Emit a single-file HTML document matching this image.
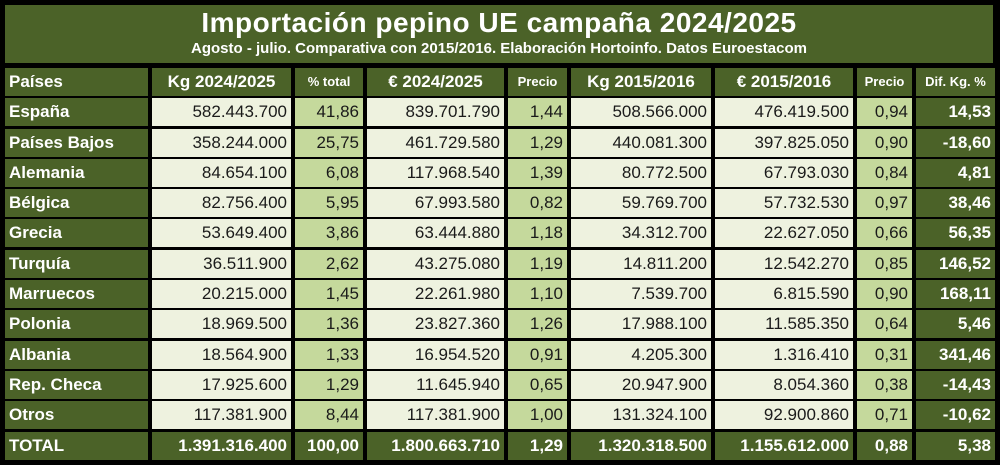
<!DOCTYPE html>
<html><head><meta charset="utf-8">
<style>
body{margin:0;width:1000px;height:465px;background:#000;overflow:hidden;font-family:"Liberation Sans",sans-serif;}
#title{position:absolute;left:5px;top:5px;width:988px;height:58px;background:#4b6228;color:#fff;text-align:center;}
#title .t{font-size:28px;font-weight:bold;line-height:32px;padding-top:2px;letter-spacing:0.5px}
#title .s{font-size:15px;font-weight:bold;line-height:20px;}
#grid{position:absolute;left:5px;top:68px;display:grid;grid-template-columns:143px 139px 68px 137px 59px 140px 138px 55px 79px;grid-template-rows:repeat(13,28px);column-gap:4px;row-gap:2.3px;}
#grid div{font-size:17px;line-height:28px;padding:0 4px;white-space:nowrap;color:#1a1a1a;text-align:right;}
.h{background:#4b6228;color:#fff!important;font-weight:bold;text-align:center!important;}
.hs{font-size:13px!important;}
.n{background:#4b6228;color:#fff!important;font-weight:bold;text-align:left!important;}
.l{background:#eef2df;}
.m{background:#c5d99c;}
.d{background:#4b6228;color:#fff!important;font-weight:bold;}
.T{background:#4b6228;color:#fff!important;font-weight:bold;}
</style></head><body>
<div id="title"><div class="t">Importación pepino UE campaña 2024/2025</div><div class="s">Agosto - julio. Comparativa con 2015/2016. Elaboración Hortoinfo. Datos Euroestacom</div></div>
<div id="grid">
<div class="n">Países</div><div class="h">Kg 2024/2025</div><div class="h hs">% total</div><div class="h">€ 2024/2025</div><div class="h hs">Precio</div><div class="h">Kg 2015/2016</div><div class="h">€ 2015/2016</div><div class="h hs">Precio</div><div class="h hs">Dif. Kg. %</div>
<div class="n">España</div><div class="l">582.443.700</div><div class="m">41,86</div><div class="l">839.701.790</div><div class="m">1,44</div><div class="l">508.566.000</div><div class="l">476.419.500</div><div class="m">0,94</div><div class="d">14,53</div>
<div class="n">Países Bajos</div><div class="l">358.244.000</div><div class="m">25,75</div><div class="l">461.729.580</div><div class="m">1,29</div><div class="l">440.081.300</div><div class="l">397.825.050</div><div class="m">0,90</div><div class="d">-18,60</div>
<div class="n">Alemania</div><div class="l">84.654.100</div><div class="m">6,08</div><div class="l">117.968.540</div><div class="m">1,39</div><div class="l">80.772.500</div><div class="l">67.793.030</div><div class="m">0,84</div><div class="d">4,81</div>
<div class="n">Bélgica</div><div class="l">82.756.400</div><div class="m">5,95</div><div class="l">67.993.580</div><div class="m">0,82</div><div class="l">59.769.700</div><div class="l">57.732.530</div><div class="m">0,97</div><div class="d">38,46</div>
<div class="n">Grecia</div><div class="l">53.649.400</div><div class="m">3,86</div><div class="l">63.444.880</div><div class="m">1,18</div><div class="l">34.312.700</div><div class="l">22.627.050</div><div class="m">0,66</div><div class="d">56,35</div>
<div class="n">Turquía</div><div class="l">36.511.900</div><div class="m">2,62</div><div class="l">43.275.080</div><div class="m">1,19</div><div class="l">14.811.200</div><div class="l">12.542.270</div><div class="m">0,85</div><div class="d">146,52</div>
<div class="n">Marruecos</div><div class="l">20.215.000</div><div class="m">1,45</div><div class="l">22.261.980</div><div class="m">1,10</div><div class="l">7.539.700</div><div class="l">6.815.590</div><div class="m">0,90</div><div class="d">168,11</div>
<div class="n">Polonia</div><div class="l">18.969.500</div><div class="m">1,36</div><div class="l">23.827.360</div><div class="m">1,26</div><div class="l">17.988.100</div><div class="l">11.585.350</div><div class="m">0,64</div><div class="d">5,46</div>
<div class="n">Albania</div><div class="l">18.564.900</div><div class="m">1,33</div><div class="l">16.954.520</div><div class="m">0,91</div><div class="l">4.205.300</div><div class="l">1.316.410</div><div class="m">0,31</div><div class="d">341,46</div>
<div class="n">Rep. Checa</div><div class="l">17.925.600</div><div class="m">1,29</div><div class="l">11.645.940</div><div class="m">0,65</div><div class="l">20.947.900</div><div class="l">8.054.360</div><div class="m">0,38</div><div class="d">-14,43</div>
<div class="n">Otros</div><div class="l">117.381.900</div><div class="m">8,44</div><div class="l">117.381.900</div><div class="m">1,00</div><div class="l">131.324.100</div><div class="l">92.900.860</div><div class="m">0,71</div><div class="d">-10,62</div>
<div class="n">TOTAL</div><div class="T">1.391.316.400</div><div class="T">100,00</div><div class="T">1.800.663.710</div><div class="T">1,29</div><div class="T">1.320.318.500</div><div class="T">1.155.612.000</div><div class="T">0,88</div><div class="T">5,38</div>
</div>
</body></html>
